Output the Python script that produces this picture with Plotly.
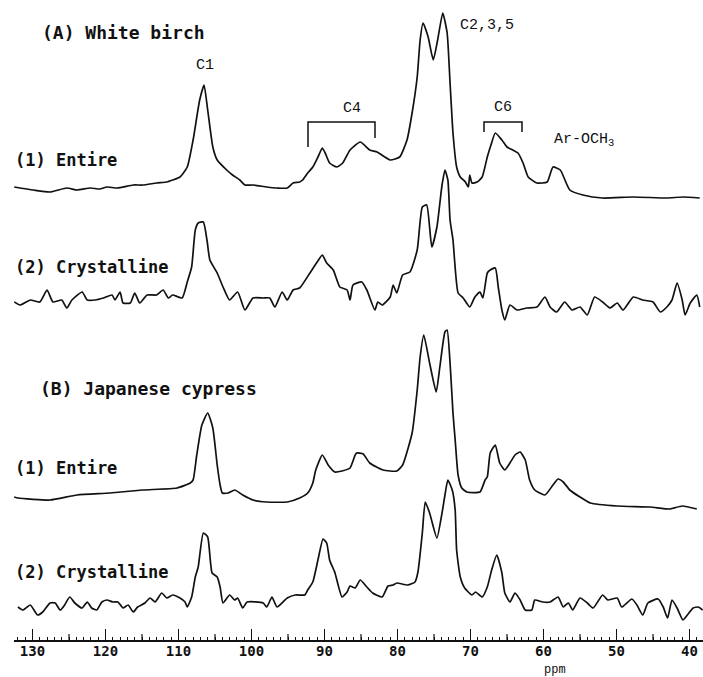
import plotly.graph_objects as go

# --- 13C CP/MAS spectra: chemical shift (ppm) and signal height (arbitrary units) ---
birch_entire_ppm = [132.5,129.9,127.6,125.3,123.9,122.1,120.8,119.8,118.4,116.2,114.9,113.0,111.6,110.8,109.8,108.8,108.0,107.1,106.5,106.0,105.3,104.7,103.4,102.6,101.6,100.9,99.8,97.9,96.5,95.1,94.3,93.4,93.0,92.3,91.6,90.9,90.3,89.9,89.3,88.3,87.5,86.5,85.1,83.8,82.8,81.0,79.7,78.7,78.0,77.3,76.9,76.5,75.8,75.1,74.5,73.8,73.2,72.8,72.4,71.9,71.4,70.7,70.3,70.1,69.8,69.1,68.4,67.7,67.2,66.6,65.7,65.0,64.2,63.5,62.8,62.1,60.9,59.5,58.7,57.7,56.4,54.6,51.9,47.7,43.1,40.9,38.6]
birch_entire_int = [13,10,8,12,10,12,11,13,12,15,15,17,18,20,23,33,60,100,115,90,53,40,30,25,20,15,15,13,12,12,17,18,20,27,33,43,52,47,37,33,37,50,58,50,48,40,43,60,87,123,160,177,163,140,160,187,167,117,67,33,23,18,13,25,17,18,23,43,55,67,60,53,50,47,37,23,17,18,33,30,10,5,2,3,2,3,2]

birch_cryst_ppm = [132.5,131.7,130.3,129.0,128.0,127.2,126.0,125.3,124.6,123.2,122.5,121.4,120.3,119.1,118.7,118.0,117.6,116.6,116.0,115.3,114.3,113.0,112.1,111.4,110.8,109.5,108.8,108.2,107.7,107.3,106.6,106.1,105.7,104.7,103.9,103.0,101.9,100.9,99.8,98.4,97.5,96.8,95.8,95.1,94.3,93.4,92.0,91.0,90.3,89.7,88.8,87.9,86.9,86.5,86.1,84.9,84.2,83.1,82.7,82.1,81.0,80.6,80.1,79.3,78.3,77.3,76.6,76.0,75.3,74.6,73.9,73.5,73.1,72.8,72.4,71.7,71.0,70.1,69.4,68.7,68.3,67.7,67.3,66.6,66.2,65.7,65.3,64.6,63.6,62.3,60.9,59.8,59.1,58.2,57.1,56.1,55.0,54.0,53.0,51.9,50.9,49.9,49.1,47.7,46.4,45.0,44.0,43.1,42.4,41.7,41.0,40.6,39.9,39.0,38.6]
birch_cryst_int = [18,15,20,18,30,18,20,12,20,28,20,20,22,25,20,28,17,17,27,17,25,25,30,22,25,22,38,53,90,97,98,80,60,47,33,20,28,10,22,22,22,13,28,20,30,32,47,58,65,57,50,33,30,20,35,38,30,10,18,15,23,35,27,45,48,70,113,115,73,93,135,150,140,100,80,27,22,13,23,28,22,47,50,52,33,10,0,15,10,12,13,23,13,8,18,10,13,5,23,18,12,17,10,23,20,18,8,13,20,37,20,5,17,25,13]

cypress_entire_ppm = [132.5,132.0,127.6,123.9,119.4,114.9,110.2,108.4,108.0,107.5,106.8,106.0,105.3,104.7,104.3,104.0,103.2,102.3,101.2,99.8,97.9,95.1,93.4,92.3,91.6,91.2,90.3,89.5,88.6,87.6,86.5,85.8,85.6,84.7,83.8,82.0,80.1,79.3,78.0,77.3,76.9,76.4,75.6,74.7,74.2,73.5,73.2,72.8,72.4,72.1,71.7,71.2,70.5,68.7,68.0,67.7,67.3,66.6,66.0,65.3,64.6,63.9,63.2,62.5,61.9,61.2,59.8,58.7,58.0,57.3,56.4,55.0,53.6,49.9,45.4,42.7,41.0,39.0]
cypress_entire_int = [23,22,20,25,27,30,32,37,40,65,95,107,92,55,35,27,27,30,25,20,18,18,22,27,37,50,65,55,48,49,52,65,67,66,57,50,49,55,87,130,163,185,157,128,153,188,190,157,107,80,45,32,28,28,40,43,67,75,57,50,57,65,68,60,40,30,25,35,41,38,30,23,17,14,13,11,14,11]

cypress_cryst_ppm = [132.0,131.3,130.3,129.3,128.6,127.6,126.9,126.2,125.6,124.9,124.2,123.2,122.5,121.9,121.2,120.5,119.8,119.0,118.3,117.6,116.9,116.2,115.6,114.6,113.9,113.2,112.3,111.6,110.8,109.8,109.1,108.8,108.2,107.7,107.3,106.6,106.0,105.4,104.7,104.3,103.9,103.0,102.3,101.9,101.2,100.6,98.4,97.9,97.2,96.5,95.1,94.0,92.7,92.3,91.6,90.9,90.2,89.7,89.3,88.6,87.6,86.9,86.5,85.8,85.1,84.2,83.4,82.1,81.3,80.6,80.1,78.6,77.6,77.2,76.6,76.2,75.6,74.6,73.9,73.5,73.1,72.5,72.1,71.9,71.4,70.8,69.8,69.3,68.4,67.7,67.1,66.4,65.7,65.3,64.6,63.9,63.2,62.5,61.6,61.2,60.1,59.1,58.0,57.3,56.6,56.0,55.0,54.0,53.2,51.9,51.2,49.9,49.3,47.9,47.2,46.4,45.7,44.3,43.6,43.0,42.4,41.7,40.9,40.3,39.5,38.8,38.2]
cypress_cryst_int = [13,10,15,5,8,17,17,10,15,23,17,12,18,12,10,18,20,18,18,12,15,8,13,17,22,18,27,22,25,22,18,13,23,43,53,87,83,47,43,33,17,25,20,22,12,18,17,13,23,13,22,25,25,30,38,60,81,77,60,48,23,28,34,32,40,33,27,23,34,35,37,35,38,48,87,118,107,82,107,125,140,130,110,70,43,32,25,28,23,33,50,65,47,27,18,27,20,10,10,20,18,18,23,13,17,10,22,17,12,25,20,22,13,21,15,5,17,21,13,2,20,12,0,5,12,13,10]

# axis ticks (ppm)
major_ticks = [130, 120, 110, 100, 90, 80, 70, 60, 50, 40]
mid_ticks = [125, 115, 105, 95, 85, 75, 65, 55, 45]

# --- page geometry (pixels) ---
W, H = 703, 677
PLOT_BOTTOM = 640          # position of the ppm axis line
X_LEFT = 14                # left end of the axis
PX_PER_PPM = 7.3
X_130 = 32.5               # pixel position of the 130 ppm tick

spectra = [
    (birch_entire_ppm, birch_entire_int, 200),
    (birch_cryst_ppm, birch_cryst_int, 320),
    (cypress_entire_ppm, cypress_entire_int, 520),
    (cypress_cryst_ppm, cypress_cryst_int, 620),
]

INK = "#111111"
fig = go.Figure()
for ppm, inten, base in spectra:
    fig.add_trace(go.Scatter(
        x=ppm, y=[base - v for v in inten], mode="lines",
        line=dict(color=INK, width=1.7, shape="spline", smoothing=0.5),
        hoverinfo="skip", showlegend=False))

# intermediate (5 ppm) ticks, drawn upward from the axis line
mx, my = [], []
for t in mid_ticks:
    mx += [t, t, None]
    my += [PLOT_BOTTOM, PLOT_BOTTOM - 6, None]
fig.add_trace(go.Scatter(x=mx, y=my, mode="lines", line=dict(color=INK, width=1.2),
                         hoverinfo="skip", showlegend=False))


def px(x):
    return x / W


def py(y):
    return 1 - y / PLOT_BOTTOM


HEAD = dict(family="DejaVu Sans Mono", size=18, color=INK, weight="bold")
SUB = dict(family="DejaVu Sans Mono", size=17, color=INK, weight="bold")
PEAK = dict(family="Liberation Mono", size=15, color=INK)

texts = [
    ("(A) White birch", 40, 32, "left", HEAD),
    ("(1) Entire", 13, 160, "left", SUB),
    ("(2) Crystalline", 13, 267, "left", SUB),
    ("(B) Japanese cypress", 38, 388, "left", HEAD),
    ("(1) Entire", 13, 468, "left", SUB),
    ("(2) Crystalline", 13, 572, "left", SUB),
    ("C1", 205, 65, "center", PEAK),
    ("C4", 352, 109, "center", PEAK),
    ("C2,3,5", 458, 25, "left", PEAK),
    ("C6", 503, 107, "center", PEAK),
    ("Ar-OCH<sub>3</sub>", 552, 140, "left", PEAK),
    ("ppm", 555, 670, "center", dict(family="Liberation Mono", size=12, color=INK)),
]
annotations = [
    dict(text=t, x=px(x), y=py(y), xref="paper", yref="paper", xanchor=a,
         yanchor="middle", showarrow=False, font=f)
    for t, x, y, a, f in texts
]


# brackets grouping the C4 and C6 signals
def bracket(x0, x1, ytop, yl, yr):
    return dict(type="path", xref="paper", yref="paper",
                path=f"M {px(x0)} {py(yl)} L {px(x0)} {py(ytop)} L {px(x1)} {py(ytop)} L {px(x1)} {py(yr)}",
                line=dict(color=INK, width=1.5))


shapes = [bracket(308, 375, 122, 147, 138), bracket(484, 522, 122, 132, 132)]

ppm_left = 130 + (X_130 - X_LEFT) / PX_PER_PPM
ppm_right = 130 - (W - X_130) / PX_PER_PPM

fig.update_layout(
    width=W, height=H,
    margin=dict(l=0, r=0, t=0, b=H - PLOT_BOTTOM, pad=0),
    paper_bgcolor="white", plot_bgcolor="white",
    annotations=annotations, shapes=shapes,
    xaxis=dict(
        domain=[X_LEFT / W, 1], range=[ppm_left, ppm_right],
        showline=True, linecolor=INK, linewidth=1.5,
        showgrid=False, zeroline=False,
        tickmode="array", tickvals=major_ticks, ticktext=[str(t) for t in major_ticks],
        ticks="inside", ticklen=11, tickwidth=1.4, tickcolor=INK,
        ticklabelstandoff=-3,
        tickfont=dict(family="DejaVu Sans Mono", size=14, color=INK, weight="bold"),
        minor=dict(tick0=0, dtick=1, ticks="inside", ticklen=3, tickwidth=1, tickcolor=INK),
    ),
    yaxis=dict(range=[PLOT_BOTTOM, 0], visible=False, showgrid=False, zeroline=False),
)

fig.write_html("out.html")
